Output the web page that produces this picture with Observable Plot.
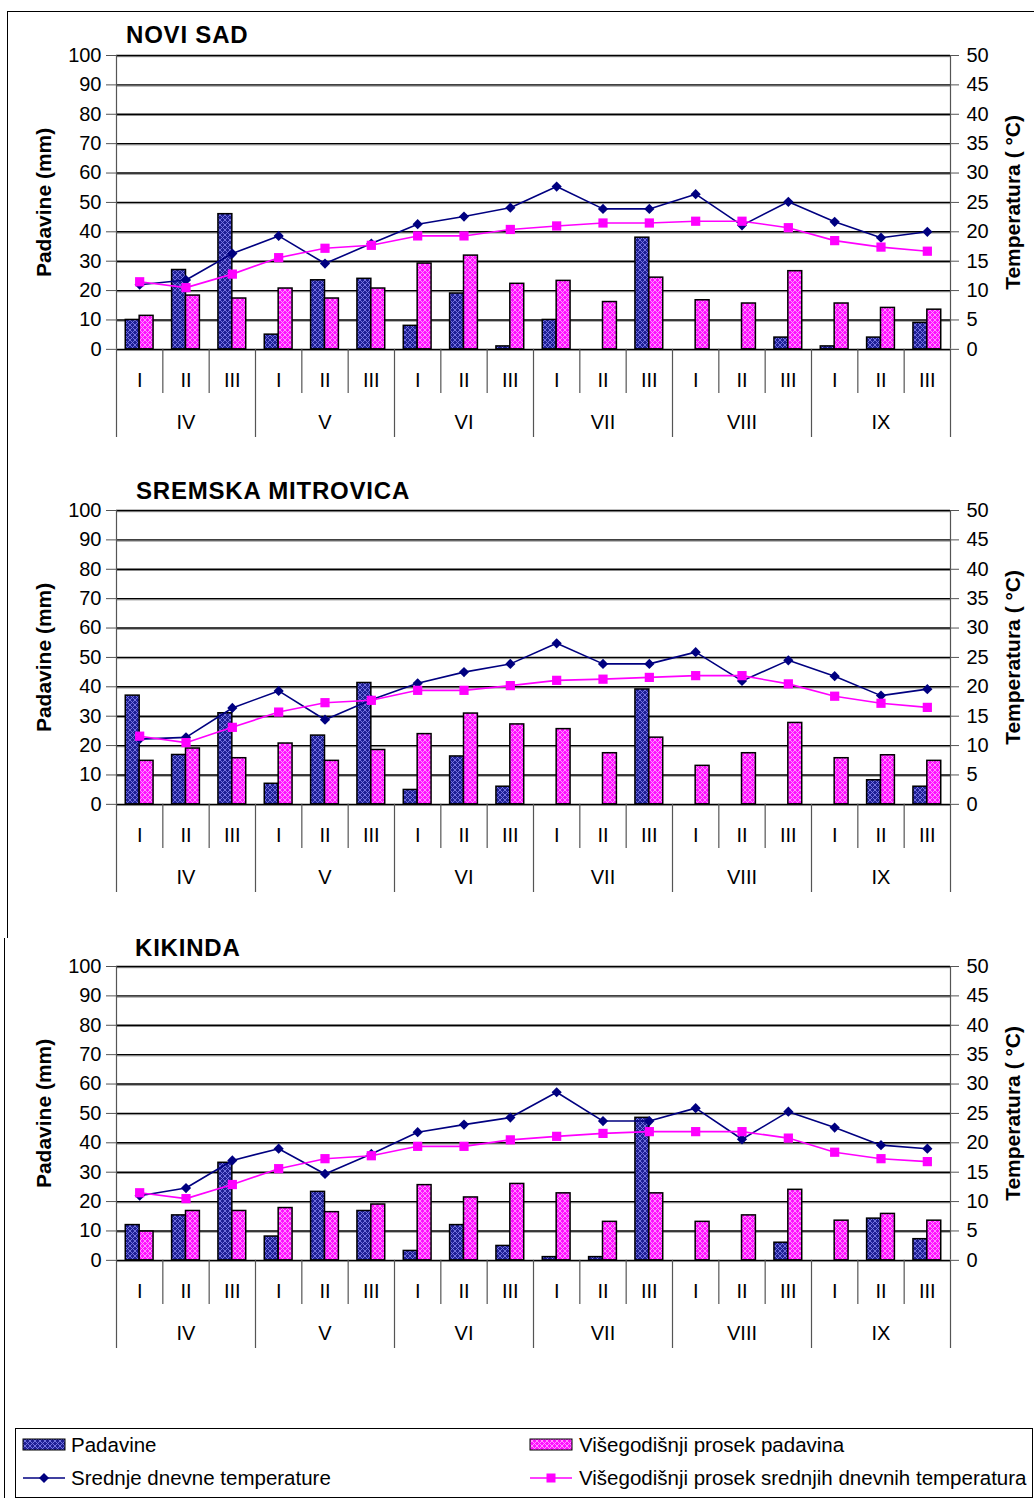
<!DOCTYPE html>
<html>
<head>
<meta charset="utf-8">
<script src="https://cdn.jsdelivr.net/npm/d3@7"></script>
<script src="https://cdn.jsdelivr.net/npm/@observablehq/plot@0.6"></script>
<style>
  html, body { margin: 0; padding: 0; background: #fff; }
  body { width: 1034px; height: 1498px; position: relative; overflow: hidden; font-family: "Liberation Sans", Arial, sans-serif; color: #000; }
  .abs { position: absolute; }
  .title { position: absolute; font-weight: bold; font-size: 24px; letter-spacing: 0.8px; line-height: 1; }
  .panel { position: absolute; left: 0; }
  .leg { position: absolute; font-size: 20.5px; line-height: 1; white-space: nowrap; }
</style>
</head>
<body>
<svg width="0" height="0" style="position:absolute">
  <defs>
    <pattern id="patBlue" width="5" height="5" patternUnits="userSpaceOnUse">
      <rect width="5" height="5" fill="#1f1f95"/>
      <path d="M0,0L5,5M5,0L0,5" stroke="#7a7ae6" stroke-width="0.9"/>
    </pattern>
    <pattern id="patPink" width="5" height="5" patternUnits="userSpaceOnUse">
      <rect width="5" height="5" fill="#ff10ff"/>
      <path d="M0,0L5,5M5,0L0,5" stroke="#ffa0ff" stroke-width="0.9"/>
    </pattern>
  </defs>
</svg>

<!-- outer frame -->
<div class="abs" style="left:7px; top:11px; width:1027px; height:0; border-top:1.5px solid #000;"></div>
<div class="abs" style="left:7px; top:11px; width:0; height:927px; border-left:1.5px solid #000;"></div>
<div class="abs" style="left:4px; top:938px; width:0; height:560px; border-left:1.5px solid #000;"></div>

<div id="p1" class="panel" style="top:0px"></div>
<div id="p2" class="panel" style="top:455px"></div>
<div id="p3" class="panel" style="top:911px"></div>

<div class="title" style="left:126px; top:23px;">NOVI SAD</div>
<div class="title" style="left:136px; top:479px;">SREMSKA MITROVICA</div>
<div class="title" style="left:135px; top:936px;">KIKINDA</div>

<!-- legend -->
<div class="abs" style="left:15px; top:1428px; width:1016px; height:68px; border:1px solid #000;"></div>
<svg class="abs" style="left:20px; top:1436px" width="50" height="55">
  <rect x="3" y="3" width="42" height="11" fill="url(#patBlue)" stroke="#000" stroke-width="1"/>
  <line x1="3" x2="45" y1="42" y2="42" stroke="#000080" stroke-width="1.5"/>
  <path d="M24,37L29,42L24,47L19,42Z" fill="#000080"/>
</svg>
<svg class="abs" style="left:527px; top:1436px" width="50" height="55">
  <rect x="3" y="3" width="42" height="11" fill="url(#patPink)" stroke="#000" stroke-width="1"/>
  <line x1="3" x2="45" y1="42" y2="42" stroke="#ff00ff" stroke-width="1.5"/>
  <rect x="19.5" y="37.5" width="9" height="9" fill="#ff00ff"/>
</svg>
<div class="leg" style="left:71px; top:1435px;">Padavine</div>
<div class="leg" style="left:579px; top:1435px;">Višegodišnji prosek padavina</div>
<div class="leg" style="left:71px; top:1468px;">Srednje dnevne temperature</div>
<div class="leg" style="left:579px; top:1468px;">Višegodišnji prosek srednjih dnevnih temperatura</div>

<script>
// ---- data ----
const decades = ["I", "II", "III"];
const months = ["IV", "V", "VI", "VII", "VIII", "IX"];
const mmTicks = [0, 10, 20, 30, 40, 50, 60, 70, 80, 90, 100];

// Novi Sad
const noviSadRain    = [10, 27, 46, 5, 23.5, 24, 8, 19, 1, 10, 0, 38, 0, 0, 4, 1, 4, 9];
const noviSadAvgRain = [11.4, 18.3, 17.3, 20.7, 17.3, 20.7, 29.2, 31.9, 22.3, 23.3, 16.1, 24.4, 16.7, 15.6, 26.6, 15.6, 14.1, 13.5];
const noviSadTemp    = [11, 11.8, 16.3, 19.3, 14.6, 18, 21.3, 22.6, 24.1, 27.7, 23.9, 23.9, 26.4, 21.1, 25.1, 21.7, 19, 20];
const noviSadAvgTemp = [11.5, 10.5, 12.8, 15.6, 17.2, 17.7, 19.3, 19.3, 20.4, 21, 21.5, 21.5, 21.8, 21.8, 20.7, 18.5, 17.4, 16.7];

// Sremska Mitrovica
const sremRain    = [37, 16.8, 31, 7, 23.4, 41.3, 4.9, 16.3, 6, 0, 0, 39.1, 0, 0, 0, 0, 8.2, 6];
const sremAvgRain = [14.8, 19, 15.7, 20.7, 14.8, 18.5, 23.9, 30.9, 27.2, 25.6, 17.4, 22.7, 13.1, 17.4, 27.7, 15.7, 16.7, 14.8];
const sremTemp    = [11.1, 11.4, 16.4, 19.3, 14.4, 17.8, 20.6, 22.5, 23.9, 27.4, 23.9, 23.9, 25.9, 21, 24.5, 21.8, 18.5, 19.6];
const sremAvgTemp = [11.6, 10.5, 13.1, 15.7, 17.3, 17.7, 19.4, 19.4, 20.2, 21.1, 21.3, 21.6, 21.9, 21.9, 20.5, 18.4, 17.2, 16.5];

// Kikinda
const kikRain    = [12, 15.3, 33.2, 8.1, 23.3, 16.8, 3.2, 12, 4.9, 1.1, 1.1, 48.5, 0, 0, 6, 0, 14.2, 7.2];
const kikAvgRain = [9.8, 16.8, 16.8, 17.8, 16.4, 19, 25.6, 21.4, 26, 22.8, 13.1, 22.8, 13.1, 15.3, 24, 13.5, 15.8, 13.5];
const kikTemp    = [11, 12.3, 17, 19, 14.7, 18.1, 21.8, 23.1, 24.3, 28.6, 23.7, 23.7, 25.9, 20.6, 25.3, 22.6, 19.6, 19];
const kikAvgTemp = [11.5, 10.5, 12.9, 15.6, 17.3, 17.8, 19.4, 19.4, 20.5, 21.1, 21.6, 21.9, 21.9, 21.9, 20.8, 18.4, 17.3, 16.8];

const FONT = "Liberation Sans, Arial, sans-serif";

function panel(rain, avgRain, temp, avgTemp) {
  const rows = rain.map((r, i) => ({
    i, rain: r, avgRain: avgRain[i], temp: temp[i], avgTemp: avgTemp[i],
    decade: decades[i % 3], month: months[Math.floor(i / 3)]
  }));
  const monthRows = months.map((m, j) => ({ j, month: m }));
  const bounds = d3.range(19);
  return Plot.plot({
    width: 1034, height: 447,
    marginTop: 55, marginBottom: 10, marginLeft: 116, marginRight: 84,
    style: { fontFamily: FONT, color: "#000", background: "transparent", overflow: "visible" },
    x: { domain: [0, 18], axis: null },
    y: { domain: [-30, 100], axis: null },
    marks: [
      // gridlines (dark line with grey shadow)
      Plot.ruleY(mmTicks, { y: d => d, x1: 0, x2: 18, stroke: "#8a8a8a", strokeWidth: 1, dy: 1.2 }),
      Plot.ruleY(mmTicks, { y: d => d, x1: 0, x2: 18, stroke: "#000", strokeWidth: 1.4 }),
      // axis lines
      Plot.ruleX([0, 18], { x: d => d, y1: 0, y2: 100, stroke: "#555", strokeWidth: 1.2 }),
      // left axis (mm)
      Plot.axisY({ ticks: mmTicks, anchor: "left", tickSize: 10, tickPadding: 5, fontSize: 20, label: null, stroke: "#555" }),
      // right axis (°C = mm / 2)
      Plot.axisY({ ticks: mmTicks, anchor: "right", tickSize: 8, tickPadding: 8, fontSize: 20, label: null, tickFormat: d => d / 2, stroke: "#555" }),
      // axis titles
      Plot.text(["Padavine (mm)"], { frameAnchor: "left", y: 50, dx: -72, rotate: -90, textAnchor: "middle", text: d => d, fontWeight: "bold", fontSize: 21 }),
      Plot.text(["Temperatura ( °C)"], { frameAnchor: "right", y: 50, dx: 63, rotate: -90, textAnchor: "middle", text: d => d, fontWeight: "bold", fontSize: 21 }),
      // bars
      Plot.rectY(rows.filter(d => d.rain > 0), { x1: d => d.i + 0.2, x2: d => d.i + 0.5, y1: 0, y2: d => d.rain, fill: "url(#patBlue)", stroke: "#000", strokeWidth: 1.5 }),
      Plot.rectY(rows, { x1: d => d.i + 0.5, x2: d => d.i + 0.8, y1: 0, y2: d => d.avgRain, fill: "url(#patPink)", stroke: "#000", strokeWidth: 1.5 }),
      // temperature lines
      Plot.line(rows, { x: d => d.i + 0.5, y: d => d.temp * 2, stroke: "#000080", strokeWidth: 1.6 }),
      Plot.dot(rows, { x: d => d.i + 0.5, y: d => d.temp * 2, symbol: "diamond2", r: 4.6, fill: "#000080", stroke: "none" }),
      Plot.line(rows, { x: d => d.i + 0.5, y: d => d.avgTemp * 2, stroke: "#ff00ff", strokeWidth: 1.6 }),
      Plot.dot(rows, { x: d => d.i + 0.5, y: d => d.avgTemp * 2, symbol: "square", r: 5.2, fill: "#ff00ff", stroke: "none" }),
      // category axis
      Plot.ruleX(bounds, { x: d => d, y1: 0, y2: d => (d % 3 === 0 ? -30 : -15), stroke: "#555", strokeWidth: 1.2 }),
      Plot.text(rows, { x: d => d.i + 0.5, y: -10.5, text: "decade", fontSize: 20 }),
      Plot.text(monthRows, { x: d => d.j * 3 + 1.5, y: -24.8, text: "month", fontSize: 20 })
    ]
  });
}

document.getElementById("p1").append(panel(noviSadRain, noviSadAvgRain, noviSadTemp, noviSadAvgTemp));
document.getElementById("p2").append(panel(sremRain, sremAvgRain, sremTemp, sremAvgTemp));
document.getElementById("p3").append(panel(kikRain, kikAvgRain, kikTemp, kikAvgTemp));
</script>
</body>
</html>
